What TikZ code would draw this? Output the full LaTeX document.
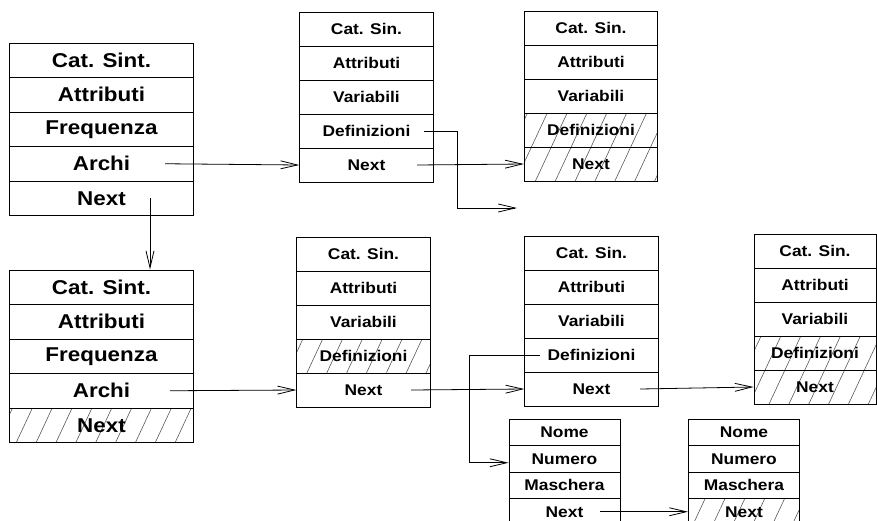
\documentclass[tikz,border=0pt]{standalone}
\usepackage{fontspec}
\newfontfamily\hv[FakeStretch=1.12]{Liberation Sans}
\usetikzlibrary{arrows.meta,patterns.meta,calc}
\tikzset{
  cellbase/.style={draw, line width=0.9pt, inner sep=0pt, anchor=center},
  bigcell/.style={cellbase, minimum width=183.5pt, minimum height=34.5pt, font=\hv\bfseries\fontsize{20}{24}\selectfont},
  midcell/.style={cellbase, minimum width=133.5pt, minimum height=34pt, font=\hv\bfseries\fontsize{15.5}{18}\selectfont},
  lastcell/.style={midcell, minimum width=122pt},
  nomecell/.style={cellbase, minimum width=111pt, minimum height=26.5pt, font=\hv\bfseries\fontsize{15.5}{18}\selectfont},
  hatched/.style={pattern={Lines[angle=65,distance=18pt,line width=0.6pt]}, pattern color=black!65},
  arr/.style={-{Straight Barb[length=17pt,width=8pt]}, line width=0.8pt}
}
\begin{document}
\begin{tikzpicture}[x=1pt,y=-1pt]
\useasboundingbox (0,0) rectangle (877,520);
% A1
\node[bigcell] (A1-1) at (101.5,60.25) {Cat. Sint.};
\node[bigcell] (A1-2) at (101.5,94.75) {Attributi};
\node[bigcell] (A1-3) at (101.5,129.25) {Frequenza};
\node[bigcell] (A1-4) at (101.5,163.75) {Archi};
\node[bigcell] (A1-5) at (101.5,198.25) {Next};
% A2
\node[bigcell] (A2-1) at (101.5,287.25) {Cat. Sint.};
\node[bigcell] (A2-2) at (101.5,321.75) {Attributi};
\node[bigcell] (A2-3) at (101.5,356.25) {Frequenza};
\node[bigcell] (A2-4) at (101.5,390.75) {Archi};
\node[bigcell,hatched] (A2-5) at (101.5,425.25) {Next};
% M1
\node[midcell] (M1-1) at (366.5,29) {Cat. Sin.};
\node[midcell] (M1-2) at (366.5,63) {Attributi};
\node[midcell] (M1-3) at (366.5,97) {Variabili};
\node[midcell] (M1-4) at (366.5,131) {Definizioni};
\node[midcell] (M1-5) at (366.5,165) {Next};
% R1
\node[midcell] (R1-1) at (591,28) {Cat. Sin.};
\node[midcell] (R1-2) at (591,62) {Attributi};
\node[midcell] (R1-3) at (591,96) {Variabili};
\node[midcell,hatched] (R1-4) at (591,130) {Definizioni};
\node[midcell,hatched] (R1-5) at (591,164) {Next};
% M2
\node[midcell] (M2-1) at (363.5,254) {Cat. Sin.};
\node[midcell] (M2-2) at (363.5,288) {Attributi};
\node[midcell] (M2-3) at (363.5,322) {Variabili};
\node[midcell,hatched] (M2-4) at (363.5,356) {Definizioni};
\node[midcell] (M2-5) at (363.5,390) {Next};
% R2
\node[midcell] (R2-1) at (591.5,253) {Cat. Sin.};
\node[midcell] (R2-2) at (591.5,287) {Attributi};
\node[midcell] (R2-3) at (591.5,321) {Variabili};
\node[midcell] (R2-4) at (591.5,355) {Definizioni};
\node[midcell] (R2-5) at (591.5,389) {Next};
% B4
\node[lastcell] (B4-1) at (815,251) {Cat. Sin.};
\node[lastcell] (B4-2) at (815,285) {Attributi};
\node[lastcell] (B4-3) at (815,319) {Variabili};
\node[lastcell,hatched] (B4-4) at (815,353) {Definizioni};
\node[lastcell,hatched] (B4-5) at (815,387) {Next};
% N1
\node[nomecell] (N1-1) at (564.5,432.25) {Nome};
\node[nomecell] (N1-2) at (564.5,458.75) {Numero};
\node[nomecell] (N1-3) at (564.5,485.25) {Maschera};
\node[nomecell] (N1-4) at (564.5,511.75) {Next};
% N2
\node[nomecell] (N2-1) at (744,432.25) {Nome};
\node[nomecell] (N2-2) at (744,458.75) {Numero};
\node[nomecell] (N2-3) at (744,485.25) {Maschera};
\node[nomecell,hatched] (N2-4) at (744,511.75) {Next};
% connectors
\coordinate (m1free) at (517,208);
\draw[arr] ([xshift=48.5pt]A1-5.center) -- ([xshift=48.5pt]A2-1.north);
\draw[arr] ([xshift=63.5pt]A1-4.center) -- (M1-5.west);
\draw[arr] ([xshift=57.5pt]M1-4.center) -| ([xshift=-60pt]m1free) -- (m1free);
\draw[arr] ([xshift=50.5pt]M1-5.center) -- (R1-5.west);
\draw[arr] ([xshift=68.5pt]A2-4.center) -- (M2-5.west);
\draw[arr] ([xshift=47.5pt]M2-5.center) -- (R2-5.west);
\draw[arr] ([xshift=-51.5pt]R2-4.center) -- ++(-71,0) |- ([yshift=-4pt]N1-2.west);
\draw[arr] ([xshift=48.5pt]R2-5.center) -- (B4-5.west);
\draw[arr] ([xshift=35.5pt]N1-4.center) -- (N2-4.west);
\end{tikzpicture}
\end{document}
